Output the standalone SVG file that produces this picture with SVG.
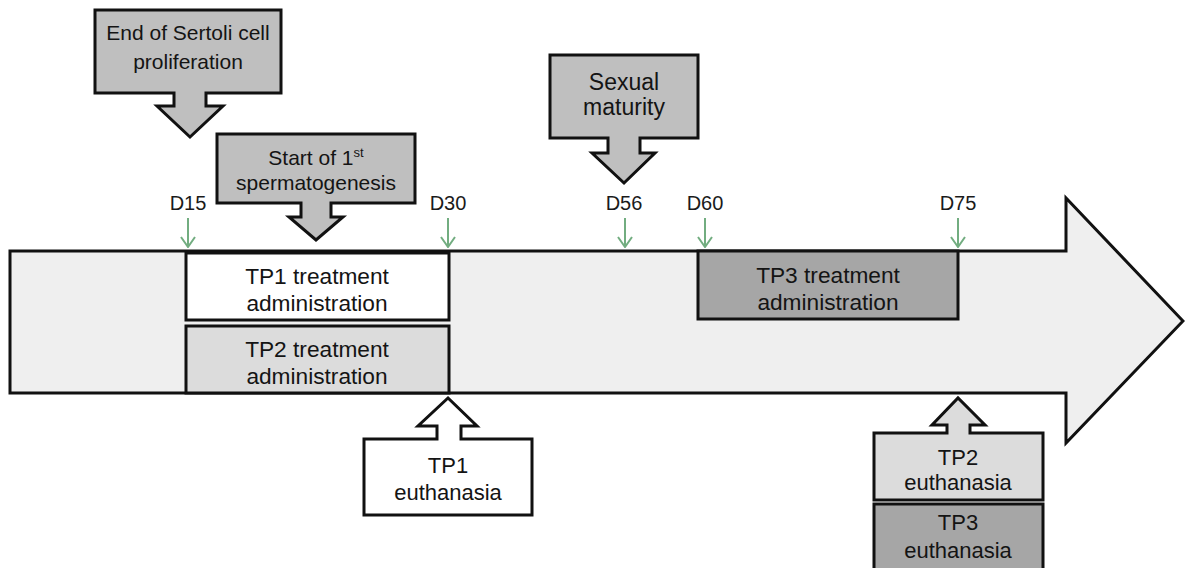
<svg xmlns="http://www.w3.org/2000/svg" width="1185" height="568" viewBox="0 0 1185 568">
<style>
.s{stroke:#111;stroke-width:3;stroke-linejoin:miter}
.t{font-family:"Liberation Sans",Arial,sans-serif;font-size:21px;fill:#141414;text-anchor:middle}
.l{font-size:22.7px}
.m{font-size:22px}
.x{font-size:23px}
.d{font-family:"Liberation Sans",Arial,sans-serif;font-size:20px;fill:#1a1a1a;text-anchor:middle}
.g{stroke:#72ad80;stroke-width:2;fill:none}
</style>
<defs>
<marker id="gh" viewBox="0 0 16 12" refX="8" refY="11" markerWidth="16" markerHeight="12" markerUnits="userSpaceOnUse" orient="0">
<polyline points="1,1 8,11 15,1" fill="none" stroke="#72ad80" stroke-width="2"/>
</marker>
</defs>
<rect width="1185" height="568" fill="#fff"/>
<g id="timeline">
<path class="s" fill="#efefef" d="M10,251 H1066 V198 L1183,321 L1066,443 V393 H10 Z"/>
</g>
<g id="tp1-treatment">
<rect class="s" x="186" y="253" width="263" height="67" fill="#fff"/>
<text class="t l" x="317" y="284">TP1 treatment</text>
<text class="t l" x="317" y="311">administration</text>
</g>
<g id="tp2-treatment">
<rect class="s" x="186" y="326" width="263" height="67" fill="#dcdcdc"/>
<text class="t l" x="317" y="357">TP2 treatment</text>
<text class="t l" x="317" y="384">administration</text>
</g>
<g id="tp3-treatment">
<rect class="s" x="698" y="251" width="260" height="68" fill="#a6a6a6"/>
<text class="t l" x="828" y="283">TP3 treatment</text>
<text class="t l" x="828" y="310">administration</text>
</g>
<g id="sertoli">
<path class="s" fill="#bfbfbf" d="M95,10 H281 V93 H206 V106 H223 L190,137 L157,106 H174 V93 H95 Z"/>
<text class="t" x="188" y="40">End of Sertoli cell</text>
<text class="t" x="188" y="69">proliferation</text>
</g>
<g id="spermatogenesis">
<path class="s" fill="#bfbfbf" d="M217,134 H415 V203 H331 V217 H343 L316,240 L289,217 H301 V203 H217 Z"/>
<text class="t" x="316" y="165">Start of 1<tspan dy="-8" font-size="13">st</tspan></text>
<text class="t" x="316" y="190">spermatogenesis</text>
</g>
<g id="sexual-maturity">
<path class="s" fill="#bfbfbf" d="M550,55 H698 V138 H640 V153 H655 L624,183 L592,153 H608 V138 H550 Z"/>
<text class="t x" x="624" y="90">Sexual</text>
<text class="t x" x="624" y="115">maturity</text>
</g>
<g id="tp1-euthanasia">
<path class="s" fill="#fff" d="M364,515 H532 V439 H461 V426 H477 L448,398 L418,426 H437 V439 H364 Z"/>
<text class="t m" x="448" y="473">TP1</text>
<text class="t m" x="448" y="500">euthanasia</text>
</g>
<g id="tp2-euthanasia">
<path class="s" fill="#dcdcdc" d="M874,500 H1043 V433 H970 V425 H985 L958,398 L932,425 H947 V433 H874 Z"/>
<text class="t m" x="958" y="465">TP2</text>
<text class="t m" x="958" y="490">euthanasia</text>
</g>
<g id="tp3-euthanasia">
<rect class="s" x="874" y="504" width="169" height="70" fill="#a6a6a6"/>
<text class="t m" x="958" y="530">TP3</text>
<text class="t m" x="958" y="558">euthanasia</text>
</g>
<g id="day-labels">
<text class="d" x="188" y="210">D15</text>
<text class="d" x="448" y="210">D30</text>
<text class="d" x="624" y="210">D56</text>
<text class="d" x="705" y="210">D60</text>
<text class="d" x="958" y="210">D75</text>
</g>
<g id="connectors">
<line class="g" x1="188" y1="218" x2="188" y2="247" marker-end="url(#gh)"/>
<line class="g" x1="448" y1="218" x2="448" y2="247" marker-end="url(#gh)"/>
<line class="g" x1="625" y1="218" x2="625" y2="247" marker-end="url(#gh)"/>
<line class="g" x1="705" y1="218" x2="705" y2="247" marker-end="url(#gh)"/>
<line class="g" x1="958" y1="218" x2="958" y2="247" marker-end="url(#gh)"/>
</g>
</svg>
